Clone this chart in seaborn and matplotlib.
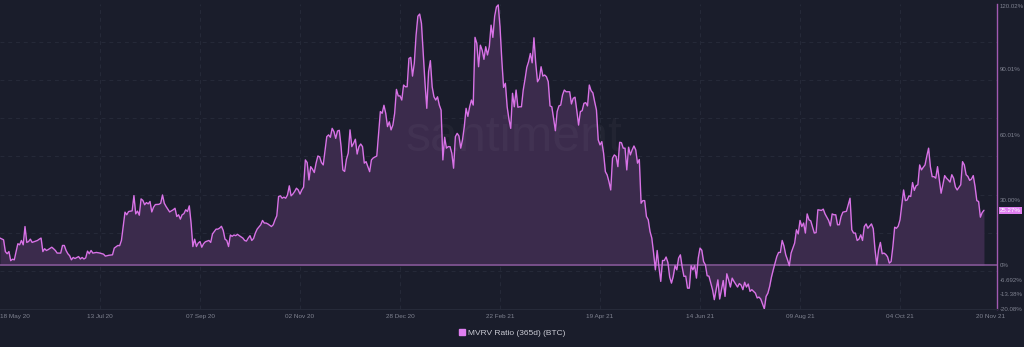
import numpy as np
import pandas as pd
import matplotlib
matplotlib.use("Agg")
import matplotlib.pyplot as plt
import matplotlib.dates as mdates
import matplotlib.transforms as mtransforms
from matplotlib.lines import Line2D
import seaborn as sns

# MVRV ratio (365d) for BTC, in percent, indexed by days since the start date
start_date = "2020-05-18"

day_offset = [
    0, 2, 3, 4, 5, 6, 7, 8, 9, 10,
    11, 12, 13, 14, 15, 16, 17, 18, 20, 21,
    22, 23, 24, 25, 26, 27, 29, 30, 31, 32,
    34, 35, 36, 37, 38, 39, 40, 41, 42, 44,
    45, 46, 47, 48, 49, 50, 51, 52, 54, 56,
    58, 59, 61, 63, 64, 66, 67, 68, 69, 70,
    71, 72, 74, 75, 76, 77, 78, 79, 80, 81,
    82, 83, 84, 85, 86, 87, 89, 90, 91, 92,
    93, 95, 97, 98, 99, 100, 101, 102, 103, 104,
    105, 106, 107, 108, 109, 110, 111, 112, 113, 114,
    115, 117, 118, 119, 120, 121, 122, 123, 124, 125,
    126, 127, 128, 129, 130, 131, 132, 133, 134, 136,
    137, 138, 139, 140, 141, 142, 143, 144, 146, 147,
    148, 149, 150, 152, 153, 154, 155, 156, 157, 158,
    159, 160, 161, 162, 163, 164, 165, 166, 167, 168,
    169, 170, 171, 172, 173, 174, 175, 176, 177, 178,
    179, 180, 181, 183, 184, 185, 186, 187, 188, 189,
    190, 191, 192, 193, 194, 195, 196, 197, 198, 199,
    200, 201, 202, 203, 204, 205, 206, 207, 208, 209,
    211, 212, 213, 214, 215, 216, 217, 218, 219, 220,
    221, 222, 223, 224, 225, 226, 227, 228, 229, 230,
    231, 232, 233, 234, 235, 236, 237, 238, 239, 240,
    241, 242, 243, 244, 245, 246, 247, 248, 249, 250,
    251, 252, 253, 254, 255, 256, 257, 258, 259, 260,
    261, 262, 263, 264, 265, 266, 267, 268, 269, 270,
    271, 272, 273, 274, 275, 276, 277, 278, 279, 280,
    281, 282, 283, 284, 285, 286, 287, 288, 289, 290,
    291, 292, 293, 294, 295, 296, 297, 298, 299, 300,
    301, 302, 303, 304, 305, 306, 307, 308, 309, 310,
    311, 312, 313, 314, 315, 316, 317, 319, 320, 321,
    322, 323, 324, 325, 326, 327, 328, 329, 330, 331,
    332, 333, 334, 335, 336, 337, 338, 339, 340, 341,
    342, 343, 344, 345, 346, 347, 348, 349, 350, 351,
    352, 353, 354, 355, 356, 357, 358, 359, 360, 361,
    362, 363, 364, 365, 366, 367, 368, 369, 370, 371,
    372, 373, 374, 375, 376, 377, 378, 379, 380, 381,
    382, 383, 384, 385, 386, 387, 388, 389, 390, 391,
    392, 393, 394, 395, 396, 397, 399, 400, 401, 402,
    403, 404, 405, 406, 407, 408, 409, 410, 411, 413,
    414, 415, 416, 417, 418, 419, 420, 421, 423, 424,
    425, 426, 427, 428, 429, 430, 431, 432, 433, 435,
    436, 437, 438, 439, 440, 441, 442, 443, 445, 446,
    447, 448, 449, 450, 451, 452, 453, 454, 455, 456,
    457, 458, 460, 461, 462, 463, 464, 465, 466, 467,
    468, 469, 470, 471, 472, 474, 475, 476, 477, 478,
    479, 480, 481, 482, 483, 484, 485, 486, 488, 489,
    490, 491, 492, 493, 494, 495, 496, 497, 498, 499,
    500, 501, 502, 503, 504, 505, 506, 507, 508, 509,
    510, 511, 512, 513, 514, 515, 516, 517, 518, 519,
    520, 521, 522, 523, 524, 525, 526, 527, 528, 529,
    530, 531, 532, 533, 534, 535, 536, 538, 539, 540,
    541, 542, 543, 544, 545, 546, 547, 548, 549, 550,
    551,
]

mvrv_pct = [
    12.5, 11.7, 6.3, 5.3, 6.3, 2.1, 2.8, 2.5, 6.3, 9.9,
    9.4, 11.4, 9.4, 17.8, 10.5, 10.9, 12.0, 10.5, 11.1, 11.4,
    12.0, 12.5, 6.3, 7.6, 6.8, 7.2, 8.3, 7.6, 6.8, 5.6,
    5.6, 9.1, 9.1, 6.8, 5.3, 4.4, 2.5, 3.6, 3.1, 4.0,
    2.9, 3.6, 2.9, 3.4, 6.5, 5.3, 6.8, 5.6, 5.9, 5.6,
    5.1, 4.2, 4.6, 4.8, 7.9, 9.1, 9.0, 11.4, 17.8, 24.4,
    23.2, 24.7, 25.0, 32.0, 23.6, 24.9, 23.0, 30.5, 29.8, 27.8,
    28.8, 28.2, 29.3, 24.5, 26.7, 27.9, 28.0, 28.5, 32.3, 28.5,
    27.0, 24.5, 25.5, 26.2, 22.4, 23.2, 21.2, 23.2, 23.7, 25.5,
    24.7, 27.3, 19.4, 8.6, 12.0, 8.6, 10.2, 10.9, 8.3, 9.9,
    10.8, 11.4, 10.5, 14.4, 15.5, 16.6, 16.6, 17.1, 17.9, 16.0,
    12.0, 11.4, 8.6, 13.9, 13.3, 13.9, 13.6, 14.2, 13.6, 12.5,
    11.4, 11.1, 12.5, 13.6, 11.4, 12.3, 14.8, 16.6, 18.6, 20.6,
    19.4, 19.4, 19.0, 17.8, 18.6, 20.9, 22.7, 31.6, 31.9, 30.8,
    31.3, 30.8, 32.3, 36.5, 31.9, 32.7, 33.9, 35.4, 34.6, 32.7,
    34.6, 35.9, 48.4, 47.2, 39.2, 45.3, 44.1, 42.6, 46.9, 50.2,
    49.8, 47.2, 46.1, 59.1, 59.9, 58.8, 62.9, 61.4, 58.3, 61.7,
    62.0, 54.5, 43.8, 43.1, 48.7, 51.5, 62.2, 54.5, 56.0, 57.9,
    51.1, 54.5, 55.7, 54.5, 46.9, 47.6, 45.3, 43.0, 48.4, 49.3,
    50.2, 60.6, 70.6, 69.8, 73.5, 69.8, 63.7, 65.9, 62.2, 64.4,
    69.8, 80.8, 77.8, 77.8, 75.9, 82.8, 82.0, 82.0, 95.0, 95.5,
    86.9, 92.8, 105.7, 114.4, 115.4, 111.1, 97.3, 83.6, 72.1, 88.9,
    94.0, 82.0, 77.4, 75.9, 77.4, 73.6, 71.3, 48.4, 58.8, 53.8,
    54.5, 54.5, 51.5, 44.6, 59.1, 60.6, 59.4, 53.8, 57.6, 63.7,
    72.1, 68.4, 72.8, 75.9, 73.6, 104.7, 101.9, 91.2, 101.1, 98.8,
    94.6, 100.4, 96.6, 100.4, 110.3, 104.7, 114.4, 118.7, 119.6, 109.5,
    94.3, 81.7, 83.6, 72.8, 67.1, 62.9, 79.0, 72.8, 80.5, 72.6,
    72.8, 72.8, 80.5, 85.4, 90.9, 93.5, 97.3, 93.0, 104.5, 92.8,
    84.3, 85.7, 91.2, 86.9, 87.4, 86.6, 84.3, 73.2, 72.8, 67.5,
    61.8, 70.6, 73.2, 73.6, 78.2, 80.5, 79.7, 79.7, 74.1, 76.7,
    77.2, 71.0, 64.4, 70.6, 71.0, 74.4, 74.7, 73.2, 82.8, 80.2,
    79.2, 75.1, 71.3, 57.6, 55.3, 56.8, 51.5, 43.0, 41.5, 38.4,
    34.6, 49.2, 50.7, 50.0, 45.3, 56.5, 56.3, 53.8, 53.8, 43.8,
    54.2, 50.7, 53.0, 54.8, 53.0, 46.9, 48.6, 28.5, 29.7, 29.7,
    22.4, 20.9, 15.5, 12.5, 5.6, -2.1, 6.8, -0.8, -7.4, 2.2,
    2.2, 3.8, 1.3, -5.4, -8.2, -5.1, -0.2, -2.1, 3.3, 4.8,
    -0.8, -5.1, -5.0, -10.5, -10.5, -0.2, -2.1, -0.2, -5.9, 3.3,
    7.9, 6.9, 1.7, 0.2, -4.8, -5.0, -11.2, -15.8, -11.2, -6.7,
    -15.5, -11.2, -7.0, -14.3, -3.9, -6.7, -10.0, -5.9, -7.4, -10.0,
    -8.4, -9.1, -11.2, -7.8, -10.0, -8.6, -12.0, -11.2, -12.8, -15.0,
    -14.6, -15.5, -17.7, -20.0, -14.3, -12.8, -9.7, -5.4, -2.1, 4.0,
    5.9, 5.9, 11.4, 8.9, 4.8, 2.5, -0.2, 5.6, 10.2, 16.3,
    14.4, 20.6, 17.8, 19.4, 14.8, 23.6, 20.9, 20.4, 17.6, 14.8,
    15.0, 25.5, 25.2, 25.8, 23.6, 22.1, 20.6, 18.1, 23.6, 23.2,
    23.2, 18.6, 18.6, 22.4, 24.4, 24.8, 27.8, 30.8, 16.3, 14.8,
    14.8, 11.4, 12.0, 14.0, 11.4, 17.8, 19.0, 17.0, 19.0, 16.8,
    7.1, 0.2, 7.1, 10.5, 5.3, 5.6, 5.0, 3.9, 1.0, 1.7,
    8.6, 17.5, 17.0, 18.0, 20.9, 27.8, 34.6, 29.7, 30.0, 31.9,
    31.6, 38.0, 34.4, 36.5, 37.0, 46.1, 43.8, 45.0, 46.1, 50.2,
    53.8, 45.3, 40.7, 40.7, 40.0, 45.3, 39.2, 33.1, 37.0, 41.2,
    40.0, 39.2, 38.2, 41.6, 40.0, 36.0, 34.6, 37.0, 47.6, 46.1,
    41.6, 40.8, 39.0, 39.6, 41.2, 36.2, 29.7, 29.3, 22.1, 24.2,
    25.27,
]

tick_dates = ["2020-05-18", "2020-07-13", "2020-09-07", "2020-11-02",
              "2020-12-28", "2021-02-22", "2021-04-19", "2021-06-14",
              "2021-08-09", "2021-10-04", "2021-11-20"]
y_ticks = [120.02, 90.01, 60.01, 30.00, 0.0, -6.692, -13.38, -20.08]
y_tick_labels = ["120.02%", "90.01%", "60.01%", "30.00%", "0%",
                 "-6.692%", "-13.38%", "-20.08%"]
series_name = "MVRV Ratio (365d) (BTC)"

assert len(day_offset) == len(mvrv_pct)

BG = "#1a1d2b"
LINE = "#d872e6"
FILL = "#3b2b4c"
ZERO = "#8a5a9c"
GRID = "#262a39"
TEXT = "#7f8290"

sns.set_theme(style="dark", rc={
    "axes.facecolor": BG,
    "figure.facecolor": BG,
    "savefig.facecolor": BG,
})
plt.rcParams["font.family"] = ["Liberation Sans", "DejaVu Sans"]

df = pd.DataFrame({
    "date": pd.Timestamp(start_date) + pd.to_timedelta(day_offset, unit="D"),
    "mvrv": mvrv_pct,
})

fig = plt.figure(figsize=(10.24, 3.47), dpi=100)
ax = fig.add_axes([0.0, 1 - 309 / 347, 997 / 1024, 305 / 347])
ax.set_facecolor(BG)

y_lo, y_hi = y_ticks[-1], y_ticks[0]
x_lo = pd.Timestamp(start_date)
x_hi = x_lo + pd.Timedelta(days=558.3)

# evenly spaced dashed grid and date guides
for gy in np.linspace(y_lo, y_hi, 9)[1:-1]:
    ax.axhline(gy, color=GRID, lw=0.7, ls=(0, (4, 4)), zorder=0)
for td in tick_dates[1:-1]:
    ax.axvline(pd.Timestamp(td), color=GRID, lw=0.7, ls=(0, (4, 4)), zorder=0)

ax.fill_between(df["date"], df["mvrv"], 0, color=FILL, lw=0, zorder=1)
ax.axhline(0, color=ZERO, lw=1.1, zorder=2)
sns.lineplot(data=df, x="date", y="mvrv", color=LINE, lw=1.0, ax=ax,
             legend=False, zorder=3)

# faint brand watermark
ax.text(0.523, 0.56, "santiment.", transform=ax.transAxes, ha="center",
        va="center", fontsize=36, color="white", alpha=0.035, zorder=1.5)

ax.set_xlim(x_lo, x_hi)
ax.set_ylim(y_lo, y_hi)
ax.set_xlabel("")
ax.set_ylabel("")

ax.set_xticks([pd.Timestamp(t) for t in tick_dates])
ax.xaxis.set_major_formatter(mdates.DateFormatter("%d %b %y"))
ax.tick_params(axis="x", length=0, pad=3.5, labelsize=4.6, labelcolor=TEXT)
xl = ax.get_xticklabels()
xl[0].set_ha("left")
xl[-1].set_transform(xl[-1].get_transform() +
                     mtransforms.ScaledTranslation(7 / 100, 0, fig.dpi_scale_trans))

ax.yaxis.tick_right()
ax.set_yticks(y_ticks)
ax.set_yticklabels(y_tick_labels)
ax.tick_params(axis="y", length=0, pad=2.2, labelsize=4.4, labelcolor=TEXT)
yl = ax.get_yticklabels()
yl[0].set_transform(yl[0].get_transform() +
                    mtransforms.ScaledTranslation(0, -2 / 100, fig.dpi_scale_trans))
ax.grid(False)

for side in ("top", "left"):
    ax.spines[side].set_visible(False)
ax.spines["right"].set_color("#a25ab2")
ax.spines["right"].set_linewidth(1.0)
ax.spines["bottom"].set_color("#262a39")
ax.spines["bottom"].set_linewidth(0.8)

# current value tag on the right axis
last = mvrv_pct[-1]
ax.annotate(f"{last:.2f}%", xy=(1.0, last), xycoords=("axes fraction", "data"),
            xytext=(2.2, 0), textcoords="offset points", ha="left", va="center",
            fontsize=4.4, color="white",
            bbox=dict(boxstyle="square,pad=0.2", fc="#e07ff0", ec="none"))

handle = Line2D([], [], marker="s", ls="", color="#e07ff0", markersize=4.5)
fig.legend(handles=[handle], labels=[series_name], loc="center",
           bbox_to_anchor=(0.5, 1 - 333 / 347), frameon=False, fontsize=6,
           labelcolor="#c9cad3", handletextpad=0.2, handlelength=1.0)

fig.savefig("out.png", dpi=100, facecolor=BG)
